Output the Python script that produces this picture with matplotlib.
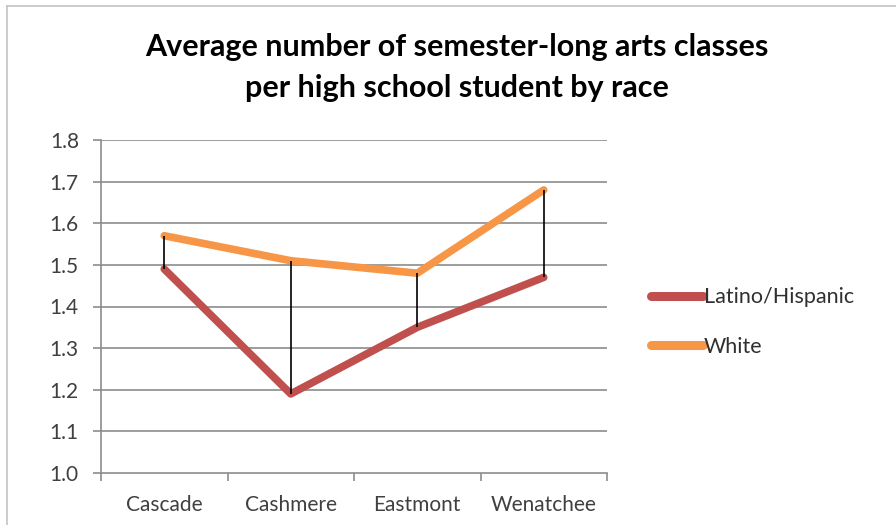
import numpy as np
import matplotlib.pyplot as plt
from matplotlib.lines import Line2D

districts = ['Cascade', 'Cashmere', 'Eastmont', 'Wenatchee']
latino = [1.49, 1.19, 1.35, 1.47]
white = [1.57, 1.51, 1.48, 1.68]
yticks = [1.0, 1.1, 1.2, 1.3, 1.4, 1.5, 1.6, 1.7, 1.8]

W, H = 896, 525
fig = plt.figure(figsize=(W / 100, H / 100), dpi=100)
plt.rcParams['font.family'] = ['Lato', 'DejaVu Sans']

# light frame around the chart area
fig.add_artist(Line2D([7 / W, 7 / W], [0, 1 - 6 / H], color='#c4c4c4', lw=1.2))
fig.add_artist(Line2D([7 / W, 1], [1 - 6 / H, 1 - 6 / H], color='#c4c4c4', lw=1.2))

left, right, top, bottom = 101, 607, 140, 473
ax = fig.add_axes([left / W, 1 - bottom / H, (right - left) / W, (bottom - top) / H])

x = np.arange(len(districts))
ax.set_xlim(-0.5, len(districts) - 0.5)
ax.set_ylim(1.0, 1.8)

for yv in yticks[1:]:
    ax.axhline(yv, color='#8c8c8c', lw=1.2, zorder=1)

# high-low lines between the two series
ax.vlines(x, latino, white, color='black', lw=1.2, zorder=3)

ax.plot(x, latino, color='#c0504d', lw=5.5, solid_capstyle='round',
        solid_joinstyle='round', label='Latino/Hispanic', zorder=2)
ax.plot(x, white, color='#f79646', lw=5.5, solid_capstyle='round',
        solid_joinstyle='round', label='White', zorder=2)

ax.set_yticks(yticks)
ax.set_yticklabels([f'{v:.1f}' for v in yticks], fontsize=15, color='#404040')
ax.set_xticks(x)
ax.set_xticklabels(districts, fontsize=15, color='#404040')
ax.set_xticks(np.arange(-0.5, len(districts)), minor=True)
ax.tick_params(axis='x', which='major', length=0, pad=16)
ax.tick_params(axis='x', which='minor', length=6, color='#8c8c8c', width=1.2)
ax.tick_params(axis='y', length=6, color='#8c8c8c', width=1.2, pad=10)

for s in ['top', 'right']:
    ax.spines[s].set_visible(False)
for s in ['left', 'bottom']:
    ax.spines[s].set_color('#8c8c8c')
    ax.spines[s].set_linewidth(1.2)

fig.text(457 / W, 1 - 47 / H, 'Average number of semester-long arts classes',
         ha='center', va='center', fontsize=22, fontweight='bold', color='black')
fig.text(457 / W, 1 - 88 / H, 'per high school student by race',
         ha='center', va='center', fontsize=22, fontweight='bold', color='black')

leg = fig.legend(loc='center left', bbox_to_anchor=(632 / W, 1 - 322 / H),
                 frameon=False, fontsize=15.5, handlelength=2.4, handletextpad=0.05,
                 labelspacing=1.35)
for t in leg.get_texts():
    t.set_color('#303030')
for h in leg.legend_handles:
    h.set_linewidth(6.5)

fig.savefig('out.png', dpi=100)
